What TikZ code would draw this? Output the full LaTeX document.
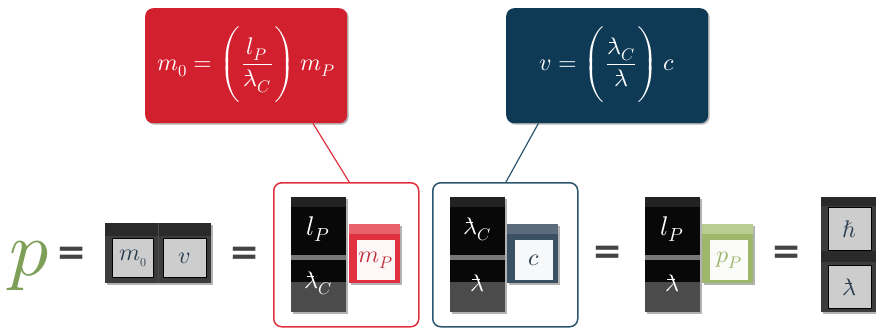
\documentclass[tikz,border=0pt]{standalone}
\usepackage{amsmath}
\usepackage{unicode-math}
\newfontfamily\eqfont{DejaVu Sans}
\usetikzlibrary{shadows,calc}
\definecolor{redc}{HTML}{D3202F}
\definecolor{bluec}{HTML}{0E3A56}
\definecolor{redo}{HTML}{E0313F}
\definecolor{blueo}{HTML}{2C5670}
\definecolor{greenp}{HTML}{7E9F58}
\definecolor{eqgray}{HTML}{444444}
\definecolor{dg}{HTML}{3C3C3C}
\definecolor{dgtop}{HTML}{2A2A2A}
\definecolor{innerg}{HTML}{CDCDCD}
\definecolor{blk}{HTML}{080808}
\definecolor{blktop}{HTML}{222222}
\definecolor{sepg}{HTML}{777777}
\definecolor{lowg}{HTML}{4B4B4B}
\definecolor{cubered}{HTML}{DF3140}
\definecolor{cuberedtop}{HTML}{E8626C}
\definecolor{cubeblue}{HTML}{3C5064}
\definecolor{cubebluetop}{HTML}{5B6B7B}
\definecolor{cubegreen}{HTML}{9DB86A}
\definecolor{cubegreentop}{HTML}{B9CD92}
\definecolor{txtred}{HTML}{C0303A}
\definecolor{txtblue}{HTML}{2C3E50}
\definecolor{txtgreen}{HTML}{9AB468}
\newcommand{\lbar}{\mathord{\ooalign{$\lambda$\cr\kern0.08em\raisebox{0.46em}{\rule{0.3em}{0.05em}}\cr}}}
\newcommand{\bigstrut}{\rule[-1.45em]{0pt}{3.3em}}
\newcommand{\tblock}[4]{%
  \fill[blk, sh] (#1,197) rectangle (#1+55,312);
  \fill[blktop] (#1,197) rectangle (#1+55,207);
  \fill[sepg] (#1,255) rectangle (#1+55,260);
  \fill[lowg] (#1,282) rectangle (#1+55,312);
  \node[text=white, font=\fontsize{27}{30}\selectfont] (#2top) at (#1+27.5,229) {$l_P$};
  \node[text=white, font=\fontsize{24}{28}\selectfont] (#2bot) at (#1+27.5,283) {#4};
}
\newcommand{\cubebox}[6]{%
  \fill[#3, sh] (#1,224) rectangle (#1+51,283);
  \fill[#4] (#1,224) rectangle (#1+51,234);
  \node[fill=white!96!#3, minimum width=38pt, minimum height=40pt, inner sep=0pt, anchor=north west, text=#5, font=\fontsize{24}{28}\selectfont] (#2) at (#1+8,240) {#6};
}
\begin{document}
\begin{tikzpicture}[x=1pt,y=-1pt,
  sh/.style={drop shadow={shadow xshift=1.5pt,shadow yshift=-1.5pt,opacity=0.3,fill=black}},
  eqbox/.style={rounded corners=8pt, anchor=north west, inner sep=0pt, text=white, minimum width=202pt, minimum height=115pt, font=\fontsize{24}{28}\selectfont, sh},
  frame/.style={rounded corners=8pt, anchor=north west, line width=1.5pt, minimum width=145pt, minimum height=144pt, inner sep=0pt},
  eqsign/.style={text=eqgray, font=\eqfont\bfseries\fontsize{36}{36}\selectfont, inner sep=0pt},
  innersq/.style={fill=innerg, draw=black, line width=0.8pt, inner sep=0pt, anchor=north west, text=txtblue, font=\fontsize{24}{28}\selectfont}
]
\useasboundingbox (0,0) rectangle (876,329);

% top equation boxes
\node[eqbox, fill=redc] (redbox) at (145,8) {\raisebox{-5pt}{$m_0 = \left(\bigstrut\mkern1mu\dfrac{\,l_P\,}{\lbar_C}\mkern1mu\right)\mkern1mu m_P$}};
\node[eqbox, fill=bluec] (bluebox) at (506,8) {\raisebox{-5pt}{$v = \left(\bigstrut\mkern1mu\dfrac{\lbar_C}{\lbar}\mkern1mu\right)\mkern1mu c$}};

% frames
\node[frame, draw=redo] (redframe) at (273,182) {};
\node[frame, draw=blueo] (blueframe) at (432,182) {};

% connectors
\draw[redo, line width=1.2pt] ($(redbox.south west)!0.83!(redbox.south east)$) -- ($(redframe.north west)!0.52!(redframe.north east)$);
\draw[blueo, line width=1.2pt] ($(bluebox.south west)!0.16!(bluebox.south east)$) -- ($(blueframe.north west)!0.505!(blueframe.north east)$);

% p =
\node[text=greenp, font=\fontsize{78}{80}\selectfont, anchor=base, inner sep=0pt] (p) at (30,275) {$p$};
\node[eqsign] (eq1) at (72,256) {=};

% m0 v block
\fill[dg, sh] (105,223) rectangle (211,283);
\fill[dgtop] (105,223) rectangle (211,236);
\draw[black!70, line width=1pt] (158,223) -- (158,283);
\node[innersq, minimum width=41pt, minimum height=39pt] (m0) at (112,238) {$m_{\scriptscriptstyle 0}$};
\node[innersq, minimum width=43pt, minimum height=39pt] (v) at (163,238) {$v$};

\node[eqsign] (eq2) at (245,256) {=};

% red frame content
\tblock{291}{a}{$l_P$}{$\lbar_C$}
\cubebox{349}{mp}{cubered}{cuberedtop}{txtred}{$m_P$}

% blue frame content
\fill[blk, sh] (450,197) rectangle (505,312);
\fill[blktop] (450,197) rectangle (505,207);
\fill[sepg] (450,255) rectangle (505,260);
\fill[lowg] (450,282) rectangle (505,312);
\node[text=white, font=\fontsize{24}{28}\selectfont] (btop) at (477.5,229) {$\lbar_C$};
\node[text=white, font=\fontsize{24}{28}\selectfont] (bbot) at (477.5,283) {$\lbar$};
\cubebox{507}{cc}{cubeblue}{cubebluetop}{txtblue}{$c$}

\node[eqsign] (eq3) at (608,255) {=};

% third group
\tblock{645}{t}{$l_P$}{$\lbar$}
\cubebox{702}{pp}{cubegreen}{cubegreentop}{txtgreen}{$p_P$}

\node[eqsign] (eq4) at (787,255) {=};

% last block
\fill[dg, sh] (821,197) rectangle (876,312);
\fill[dgtop] (821,197) rectangle (876,206);
\fill[dgtop] (821,251) rectangle (876,262);
\node[innersq, minimum width=43pt, minimum height=43pt] (hb) at (828,207) {$\hbar$};
\node[innersq, minimum width=43pt, minimum height=43pt] (lb) at (828,265) {$\lbar$};
\end{tikzpicture}
\end{document}
